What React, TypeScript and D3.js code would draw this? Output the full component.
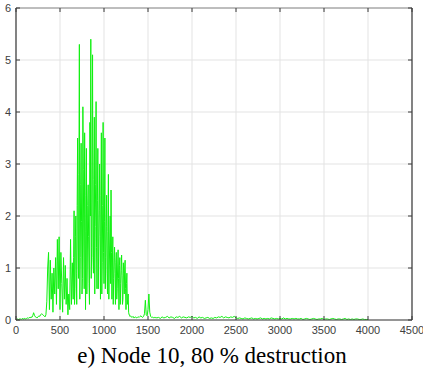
import React from "react";
import * as d3 from "d3";

const xTicks = [0, 500, 1000, 1500, 2000, 2500, 3000, 3500, 4000, 4500];
const yTicks = [0, 1, 2, 3, 4, 5, 6];
const title = "e) Node 10, 80 % destruction";

// Segment A: x = 0..640 step 10
const segAStart = 0;
const segAStep = 10;
const segAValues = [
  0.00, 0.01, 0.02, 0.01, 0.02, 0.02, 0.01, 0.03, 0.02, 0.02,
  0.03, 0.02, 0.03, 0.04, 0.03, 0.05, 0.04, 0.06, 0.05, 0.08,
  0.14, 0.09, 0.06, 0.05, 0.04, 0.06, 0.08, 0.07, 0.10, 0.12,
  0.11, 0.09, 0.08, 0.06, 0.10,
  0.35, 1.0, 1.3, 0.2, 1.15, 0.4, 0.9, 0.15, 1.0, 0.5,
  1.2, 0.3, 1.55, 0.6, 1.6, 0.2, 1.3, 0.7, 0.15, 1.2,
  0.4, 1.05, 0.3, 0.8, 0.1, 0.5, 0.2, 1.55, 0.3, 1.1,
];

// Segment B: x = 650..1300 step 5 (dense main burst)
const segBStart = 650;
const segBStep = 5;
const segBValues = [
  0.4, 1.2, 2.1, 0.3, 0.6, 1.6, 2.0, 0.9, 0.3, 2.2,
  3.5, 1.5, 0.8, 2.8, 5.3, 0.4, 1.2, 2.6, 3.4, 1.9,
  0.5, 0.8, 4.1, 2.9, 1.5, 0.6, 3.6, 2.4, 0.2, 1.7,
  3.3, 0.5, 1.0, 2.2, 2.6, 1.6, 0.7, 0.3, 3.8, 2.0,
  5.4, 0.8, 1.4, 3.0, 5.1, 1.2, 0.9, 2.7, 3.9, 0.5,
  1.8, 2.6, 4.2, 1.4, 0.6, 2.3, 3.3, 0.6, 1.5, 2.1,
  3.0, 1.6, 0.4, 2.4, 3.6, 0.5, 1.1, 2.2, 3.8, 1.3,
  0.7, 1.9, 3.5, 0.6, 1.2, 1.8, 2.4, 0.9, 0.5, 1.7,
  2.8, 0.4, 1.0, 1.5, 2.0, 0.7, 2.5, 1.3, 0.4, 1.0,
  1.6, 0.3, 0.8, 1.2, 1.4, 0.9, 0.3, 1.1, 1.3, 0.4,
  0.6, 1.0, 1.35, 0.8, 0.2, 1.05, 1.2, 0.3, 0.7, 0.95,
  1.25, 0.85, 0.3, 0.4, 1.1, 0.9, 0.5, 1.0, 1.15, 0.6,
  0.2, 0.7, 0.9, 0.3, 0.4, 0.5, 0.15, 0.1, 0.1, 0.07,
  0.08,
];

// Segment C: x = 1310..1600 step 10
const segCStart = 1310;
const segCStep = 10;
const segCValues = [
  0.06, 0.05, 0.07, 0.04, 0.05, 0.06, 0.04, 0.05, 0.06, 0.05,
  0.07, 0.08, 0.06, 0.05, 0.07, 0.12, 0.38, 0.1, 0.08, 0.2,
  0.5, 0.15, 0.07, 0.05, 0.06, 0.04, 0.05, 0.04, 0.05, 0.04,
];

// Segment D: x = 1620..4000 step 20
const segDStart = 1620;
const segDStep = 20;
const segDValues = [
  0.05, 0.03, 0.06, 0.04, 0.05, 0.07, 0.04, 0.06, 0.05, 0.03, 0.06, 0.05, 0.07, 0.04, 0.06, 0.05, 0.04, 0.06, 0.05, 0.07,
  0.04, 0.05, 0.03, 0.06, 0.04, 0.05, 0.03, 0.04, 0.05, 0.03, 0.04, 0.03, 0.05, 0.04, 0.06, 0.05, 0.07, 0.04, 0.06, 0.05,
  0.04, 0.06, 0.05, 0.07, 0.04, 0.03, 0.04, 0.03, 0.02, 0.04, 0.03, 0.02, 0.03, 0.04, 0.02, 0.03, 0.02, 0.03, 0.04, 0.02,
  0.03, 0.02, 0.03, 0.02, 0.04, 0.03, 0.02, 0.03, 0.02, 0.03, 0.02, 0.04, 0.02, 0.03, 0.02, 0.02, 0.03, 0.02, 0.03, 0.02,
  0.02, 0.03, 0.01, 0.02, 0.03, 0.02, 0.01, 0.02, 0.03, 0.02, 0.01, 0.02, 0.02, 0.03, 0.01, 0.02, 0.02, 0.01, 0.02, 0.03,
  0.02, 0.01, 0.02, 0.02, 0.01, 0.02, 0.03, 0.01, 0.02, 0.01, 0.02, 0.01, 0.02, 0.02, 0.01, 0.01, 0.02, 0.01, 0.01, 0.01,
];

const W = 423;
const H = 370;
const M = { left: 16, right: 412, top: 8, bottom: 320 };

function seg(start: number, step: number, values: number[]): [number, number][] {
  return values.map((v, i) => [start + i * step, v] as [number, number]);
}

export default function App() {
  const x = d3.scaleLinear().domain([0, 4500]).range([M.left, M.right]);
  const y = d3.scaleLinear().domain([0, 6]).range([M.bottom, M.top]);

  const points: [number, number][] = [
    ...seg(segAStart, segAStep, segAValues),
    ...seg(segBStart, segBStep, segBValues),
    ...seg(segCStart, segCStep, segCValues),
    ...seg(segDStart, segDStep, segDValues),
  ];
  const line = d3
    .line<[number, number]>()
    .x((d) => x(d[0]))
    .y((d) => y(d[1]));

  const axisColor = "#3a3a3a";
  const gridColor = "#e3e3e3";
  const tickFont = "Arial, 'Liberation Sans', sans-serif";

  return (
    <svg
      width={W}
      height={H}
      style={{ position: "absolute", left: 0, top: 0, background: "#fff" }}
    >
      <rect x={0} y={0} width={W} height={H} fill="#fff" />
      {xTicks.map((t) => (
        <line key={"gx" + t} x1={x(t)} x2={x(t)} y1={M.top} y2={M.bottom} stroke={gridColor} strokeWidth={1} />
      ))}
      {yTicks.map((t) => (
        <line key={"gy" + t} x1={M.left} x2={M.right} y1={y(t)} y2={y(t)} stroke={gridColor} strokeWidth={1} />
      ))}
      <path d={line(points) || ""} fill="none" stroke="#10f010" strokeWidth={1} strokeLinejoin="miter" />
      <line x1={M.left} x2={M.right} y1={M.top} y2={M.top} stroke="#8a8a8a" strokeWidth={1} />
      <line x1={M.left} x2={M.right} y1={M.bottom} y2={M.bottom} stroke={axisColor} strokeWidth={1.2} />
      <line x1={M.left} x2={M.left} y1={M.top} y2={M.bottom} stroke={axisColor} strokeWidth={1.2} />
      <line x1={M.right} x2={M.right} y1={M.top} y2={M.bottom} stroke={axisColor} strokeWidth={1.2} />
      {xTicks.map((t) => (
        <g key={"tx" + t}>
          <line x1={x(t)} x2={x(t)} y1={M.bottom} y2={M.bottom - 4} stroke={axisColor} />
          <line x1={x(t)} x2={x(t)} y1={M.top} y2={M.top + 4} stroke={axisColor} />
          <text x={x(t)} y={M.bottom + 14} textAnchor="middle" fontFamily={tickFont} fontSize={11} fill="#404040">
            {t}
          </text>
        </g>
      ))}
      {yTicks.map((t) => (
        <g key={"ty" + t}>
          <line x1={M.left} x2={M.left + 4} y1={y(t)} y2={y(t)} stroke={axisColor} />
          <line x1={M.right} x2={M.right - 4} y1={y(t)} y2={y(t)} stroke={axisColor} />
          <text x={M.left - 5} y={y(t) + 4} textAnchor="end" fontFamily={tickFont} fontSize={11} fill="#404040">
            {t}
          </text>
        </g>
      ))}
      <text
        x={212}
        y={363}
        textAnchor="middle"
        fontFamily="'Liberation Serif', 'Times New Roman', serif"
        fontSize={23}
        fill="#000"
      >
        {title}
      </text>
    </svg>
  );
}
